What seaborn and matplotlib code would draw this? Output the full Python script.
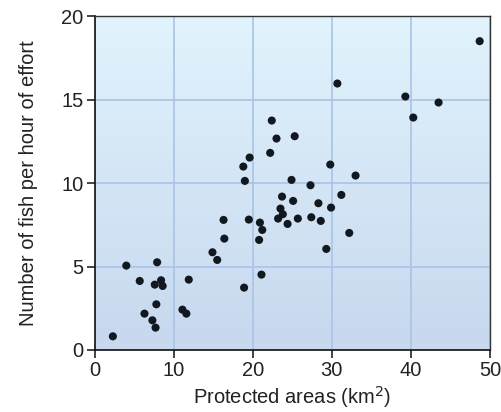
import numpy as np
import pandas as pd
import seaborn as sns
import matplotlib.pyplot as plt

# protected area (km2) vs fish per hour of effort
area = [2.3, 4.0, 7.9, 5.7, 7.6, 8.4, 8.6, 7.8, 6.3, 7.3, 7.7, 11.9, 11.1, 11.6,
        14.9, 15.5, 30.7, 22.4, 23.0, 25.3, 22.2, 19.6, 18.8, 19.0, 29.8, 24.9,
        27.3, 31.2, 23.7, 25.1, 28.3, 29.9, 23.5, 23.8, 23.2, 24.4, 25.7, 27.4,
        28.6, 32.2, 29.3, 16.3, 19.5, 20.9, 21.2, 20.8, 16.4, 21.1, 18.9, 48.7,
        39.3, 43.5, 40.3, 33.0]
fish = [0.82, 5.06, 5.26, 4.14, 3.92, 4.18, 3.84, 2.74, 2.18, 1.78, 1.34, 4.22,
        2.42, 2.18, 5.86, 5.40, 15.98, 13.76, 12.68, 12.82, 11.82, 11.54, 11.0,
        10.14, 11.12, 10.2, 9.88, 9.3, 9.2, 8.94, 8.8, 8.54, 8.48, 8.14, 7.88,
        7.56, 7.88, 7.96, 7.74, 7.02, 6.06, 7.8, 7.82, 7.64, 7.2, 6.6, 6.68,
        4.52, 3.74, 18.52, 15.2, 14.84, 13.94, 10.46]

x_ticks = [0, 10, 20, 30, 40, 50]
y_ticks = [0, 5, 10, 15, 20]

df = pd.DataFrame({'area': area, 'fish': fish})

sns.set_style('white')
plt.rcParams['font.family'] = ['Liberation Sans', 'DejaVu Sans']

fig = plt.figure(figsize=(5.02, 4.12), dpi=100)
ax = fig.add_axes([0.1886, 0.1505, 0.976 - 0.1886, 0.960 - 0.1505])

# light blue vertical gradient background
top = np.array([0xe1, 0xf3, 0xfc]) / 255
bot = np.array([0xc7, 0xd8, 0xef]) / 255
t = np.linspace(0, 1, 256)[:, None]
grad = (top * (1 - t) + bot * t)[:, None, :]
ax.imshow(grad, extent=[0, 50, 0, 20], aspect='auto', origin='upper', zorder=-1)

sns.scatterplot(data=df, x='area', y='fish', ax=ax, color='#12181f', s=34,
                edgecolor='none', zorder=3)

ax.set_xlim(0, 50)
ax.set_ylim(0, 20)
ax.set_xticks(x_ticks)
ax.set_yticks(y_ticks)
ax.set_axisbelow(True)
ax.grid(True, color='#aac3e6', linewidth=1.2)

for side in ['left', 'bottom']:
    ax.spines[side].set_color('#111111')
    ax.spines[side].set_linewidth(1.2)
for side in ['top', 'right']:
    ax.spines[side].set_color('#333333')
    ax.spines[side].set_linewidth(1.0)

ax.tick_params(axis='both', direction='out', length=6, width=1.1, color='#111111',
               labelsize=14.5, labelcolor='#222222', pad=2,
               bottom=True, left=True)

ax.set_xlabel('Protected areas (km$^2$)', fontsize=14.5, color='#222222', labelpad=3)
ax.set_ylabel('Number of fish per hour of effort', fontsize=14.5, color='#222222', labelpad=17)

fig.savefig('out.png', dpi=100)
